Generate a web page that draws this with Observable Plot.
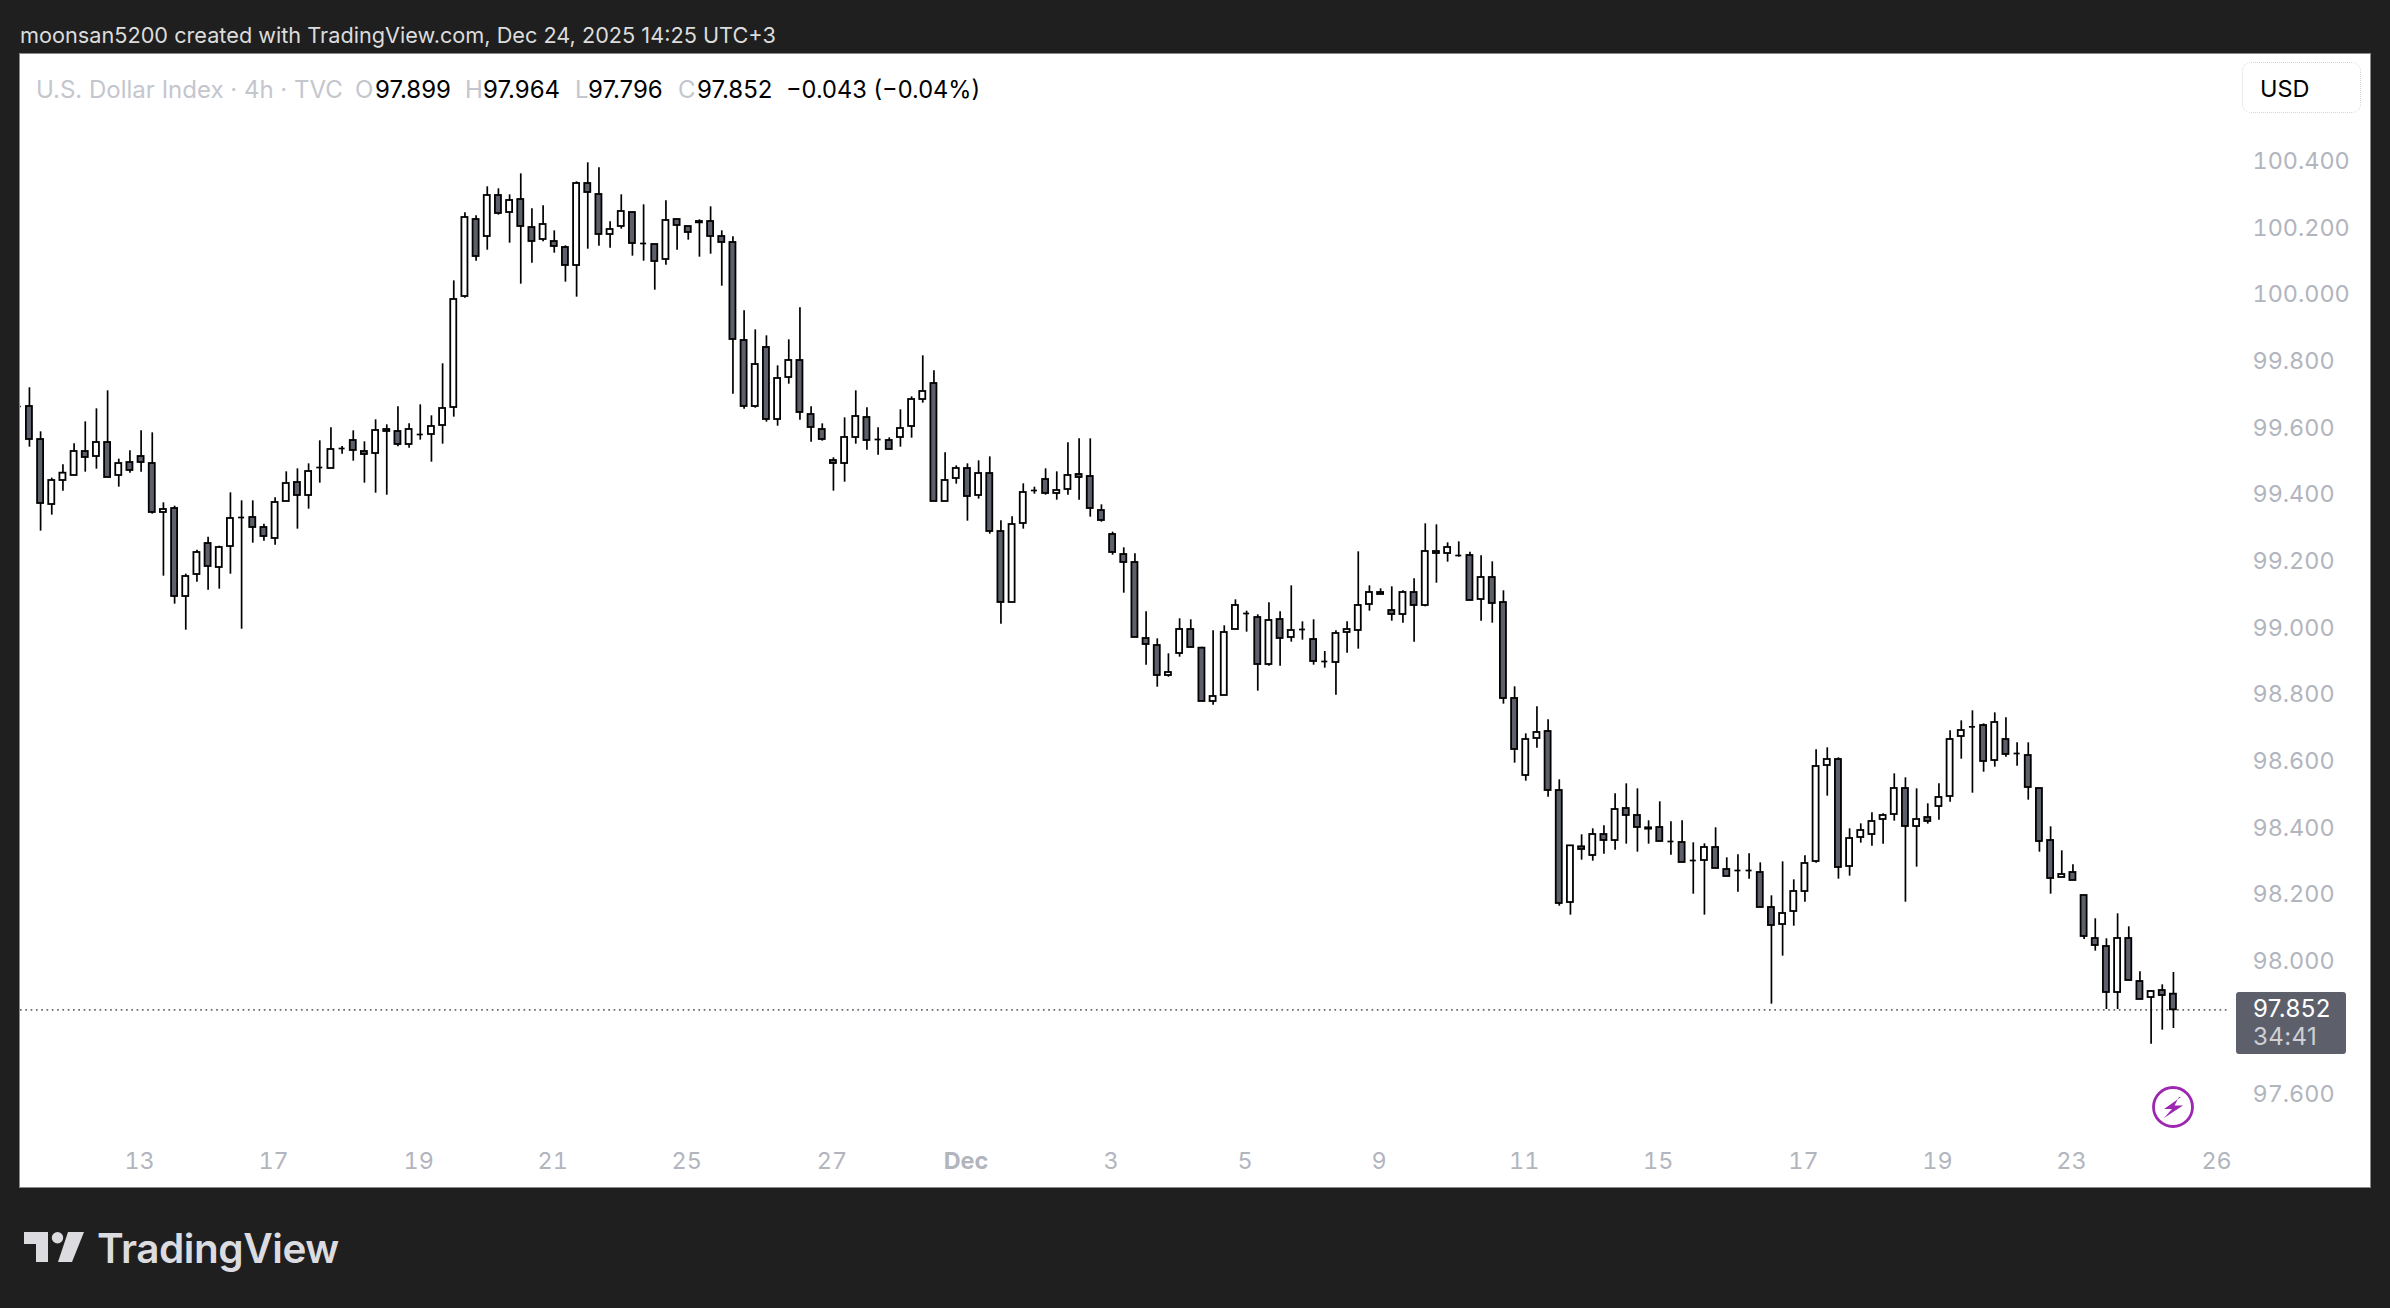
<!DOCTYPE html>
<html><head><meta charset="utf-8">
<script src="https://cdn.jsdelivr.net/npm/d3@7"></script>
<script src="https://cdn.jsdelivr.net/npm/@observablehq/plot@0.6"></script>
<style>
html,body{margin:0;padding:0;background:#1f1f1f;overflow:hidden;width:2390px;height:1308px}
#page{position:relative;width:2390px;height:1308px;font-family:Inter,sans-serif}
#panel{position:absolute;left:20px;top:54px;width:2350px;height:1133px;background:#fff;box-shadow:0 0 0 1px #8a8a8a}
#panel svg{display:block}
.abs{position:absolute;white-space:nowrap;line-height:1}
.leg{font-size:24px;transform:translateY(-50%);top:90px;color:#000}
.g{color:#c4c6cd}
</style></head><body>
<div id="page">
<div class="abs" style="left:20px;top:36px;transform:translateY(-50%);font-size:21.7px;color:#dcdcdc">moonsan5200 created with TradingView.com, Dec 24, 2025 14:25 UTC+3</div>
<div id="panel"></div>
<div class="abs leg g" style="left:36px">U.S. Dollar Index · 4h · TVC</div>
<div class="abs leg g" style="left:355px">O</div><div class="abs leg" style="left:375px">97.899</div>
<div class="abs leg g" style="left:465px">H</div><div class="abs leg" style="left:483px">97.964</div>
<div class="abs leg g" style="left:575px">L</div><div class="abs leg" style="left:588px">97.796</div>
<div class="abs leg g" style="left:678px">C</div><div class="abs leg" style="left:697px">97.852</div>
<div class="abs leg" style="left:786px;font-size:23.6px">−0.043 (−0.04%)</div>
<div class="abs" style="left:2242px;top:62px;width:119px;height:51px;box-sizing:border-box;border:1px dotted #d6d6d6;border-radius:9px"></div>
<div class="abs" style="left:2260px;top:88.5px;transform:translateY(-50%);font-size:23.5px;color:#000">USD</div>
<div id="lastBox" class="abs" style="left:2236px;width:110px;height:62px;background:#5d606b;border-radius:3px"></div>
<div id="lastPrice" class="abs" style="left:2253px;font-size:24px;letter-spacing:.4px;color:#fff;transform:translateY(-50%)">97.852</div>
<div id="countdown" class="abs" style="left:2253px;font-size:24px;letter-spacing:.4px;color:#cfd0d4;transform:translateY(-50%)">34:41</div>
<svg class="abs" style="left:2150px;top:1084px" width="46" height="46" viewBox="0 0 46 46">
<circle cx="23" cy="23" r="19.5" fill="#fff" stroke="#9c27b0" stroke-width="2.8"/>
<path d="M31 13 L14 25 H22 L14 34 L33 21.5 H24.5 L29 13 Z" fill="#9c27b0"/></svg>
<svg class="abs" style="left:24px;top:1232px" width="62" height="32" viewBox="0 0 62 32" fill="#dcdce0">
<path d="M0 0H24V30H12V12H0Z"/><circle cx="33.5" cy="5.7" r="5.7"/><path d="M44 0H60L48 30H34Z"/></svg>
<div class="abs" style="left:97px;top:1249px;transform:translateY(-50%);font-size:40.5px;font-weight:600;letter-spacing:-.45px;color:#dcdce0">TradingView</div>
</div>
<script>
const opens=[99.662,
99.662,99.563,99.368,99.440,99.455,99.527,99.512,99.554,99.455,99.494,
99.512,99.491,99.344,99.356,99.092,99.158,99.251,99.179,99.242,99.329,
99.329,99.299,99.266,99.377,99.434,99.395,99.479,99.476,99.536,99.560,
99.527,99.521,99.593,99.587,99.548,99.578,99.578,99.605,99.659,99.992,
100.223,100.172,100.295,100.244,100.283,100.199,100.163,100.157,100.139,100.085,
100.331,100.298,100.178,100.202,100.244,100.151,100.148,100.103,100.223,100.202,
100.217,100.217,100.172,100.154,99.860,99.662,99.839,99.623,99.749,99.800,
99.638,99.593,99.500,99.491,99.569,99.629,99.563,99.560,99.569,99.602,
99.683,99.731,99.377,99.446,99.476,99.395,99.461,99.287,99.074,99.311,
99.410,99.443,99.401,99.413,99.458,99.452,99.350,99.278,99.218,99.194,
98.966,98.945,98.855,98.921,98.993,98.937,98.777,98.795,98.993,99.041,
99.029,98.888,99.023,98.969,98.993,98.963,98.897,98.894,98.984,98.990,
99.068,99.104,99.050,99.038,99.104,99.065,99.227,99.221,99.215,99.215,
99.083,99.149,99.074,98.786,98.555,98.666,98.687,98.510,98.174,98.341,
98.315,98.378,98.360,98.456,98.435,98.398,98.399,98.357,98.354,98.300,
98.300,98.339,98.273,98.270,98.270,98.264,98.159,98.108,98.147,98.207,
98.297,98.585,98.603,98.282,98.369,98.378,98.423,98.438,98.516,98.402,
98.429,98.462,98.492,98.672,98.701,98.705,98.600,98.663,98.621,98.615,
98.516,98.360,98.249,98.264,98.195,98.066,98.042,97.904,98.066,97.937,
97.889,97.910,97.899];
const closes=[99.662,
99.563,99.371,99.440,99.462,99.527,99.509,99.554,99.449,99.491,99.470,
99.494,99.344,99.353,99.092,99.152,99.224,99.182,99.239,99.326,99.329,
99.299,99.272,99.374,99.431,99.395,99.467,99.479,99.533,99.536,99.530,
99.518,99.590,99.587,99.548,99.593,99.578,99.602,99.656,99.983,100.229,
100.112,100.295,100.241,100.280,100.202,100.157,100.208,100.142,100.085,100.331,
100.304,100.178,100.193,100.247,100.151,100.151,100.097,100.220,100.205,100.184,
100.213,100.172,100.154,99.863,99.662,99.788,99.623,99.746,99.800,99.644,
99.599,99.563,99.491,99.569,99.632,99.560,99.563,99.533,99.596,99.683,
99.707,99.377,99.440,99.476,99.392,99.461,99.287,99.074,99.308,99.404,
99.410,99.401,99.410,99.455,99.449,99.356,99.320,99.224,99.194,98.969,
98.948,98.855,98.864,98.993,98.939,98.777,98.792,98.984,99.065,99.041,
98.888,99.020,98.966,98.990,98.993,98.897,98.897,98.981,98.993,99.065,
99.104,99.098,99.038,99.104,99.065,99.227,99.221,99.239,99.215,99.080,
99.149,99.071,98.786,98.633,98.663,98.684,98.510,98.171,98.344,98.333,
98.378,98.360,98.453,98.435,98.399,98.394,98.357,98.357,98.294,98.300,
98.339,98.276,98.252,98.270,98.270,98.159,98.105,98.141,98.207,98.291,
98.582,98.603,98.279,98.366,98.390,98.417,98.435,98.516,98.402,98.423,
98.417,98.489,98.663,98.690,98.701,98.597,98.714,98.618,98.621,98.519,
98.357,98.246,98.258,98.240,98.072,98.045,97.904,98.066,97.940,97.883,
97.907,97.895,97.852];
const highs=[99.662,
99.718,99.586,99.447,99.487,99.550,99.616,99.655,99.709,99.504,99.529,
99.589,99.583,99.373,99.363,99.159,99.231,99.270,99.243,99.403,99.379,
99.379,99.309,99.388,99.466,99.475,99.490,99.559,99.598,99.542,99.589,
99.556,99.622,99.607,99.661,99.610,99.667,99.634,99.790,100.039,100.243,
100.234,100.321,100.315,100.297,100.360,100.255,100.264,100.189,100.144,100.336,
100.393,100.378,100.216,100.297,100.244,100.267,100.148,100.279,100.223,100.202,
100.222,100.261,100.189,100.171,99.949,99.892,99.874,99.784,99.862,99.958,
99.661,99.610,99.508,99.628,99.709,99.658,99.598,99.568,99.652,99.691,
99.814,99.769,99.523,99.484,99.490,99.499,99.511,99.319,99.331,99.430,
99.420,99.475,99.466,99.553,99.565,99.565,99.367,99.285,99.238,99.220,
99.046,98.965,98.920,99.025,99.022,98.940,98.989,99.004,99.082,99.048,
99.037,99.073,99.046,99.124,99.016,99.022,98.927,98.989,99.016,99.226,
99.124,99.115,99.121,99.109,99.145,99.310,99.307,99.253,99.256,99.225,
99.214,99.196,99.109,98.821,98.680,98.761,98.722,98.542,98.344,98.377,
98.395,98.404,98.500,98.530,98.515,98.419,98.476,98.416,98.419,98.353,
98.350,98.398,98.308,98.317,98.320,98.293,98.194,98.296,98.242,98.314,
98.632,98.638,98.608,98.395,98.410,98.443,98.440,98.560,98.548,98.515,
98.470,98.530,98.689,98.719,98.749,98.710,98.743,98.728,98.653,98.653,
98.516,98.401,98.329,98.287,98.195,98.125,98.065,98.140,98.101,97.966,
97.910,97.927,97.964];
const lows=[99.662,
99.540,99.288,99.336,99.408,99.455,99.465,99.474,99.449,99.420,99.462,
99.465,99.339,99.153,99.069,98.991,99.135,99.111,99.114,99.159,98.994,
99.252,99.258,99.246,99.377,99.294,99.354,99.432,99.476,99.519,99.498,
99.432,99.402,99.396,99.541,99.537,99.561,99.495,99.549,99.630,99.987,
100.098,100.131,100.236,100.152,100.029,100.092,100.156,100.122,100.035,99.990,
100.134,100.143,100.137,100.194,100.113,100.098,100.011,100.086,100.131,100.161,
100.110,100.119,100.023,99.699,99.654,99.657,99.615,99.603,99.729,99.621,
99.555,99.558,99.408,99.435,99.549,99.531,99.516,99.533,99.540,99.567,
99.672,99.377,99.377,99.429,99.318,99.384,99.279,99.009,99.074,99.294,
99.399,99.396,99.381,99.396,99.381,99.330,99.315,99.216,99.102,98.969,
98.886,98.820,98.850,98.910,98.939,98.777,98.766,98.795,98.993,98.985,
98.808,98.883,98.883,98.955,98.961,98.886,98.877,98.796,98.922,98.934,
99.048,99.098,99.018,99.012,98.955,99.061,99.132,99.195,99.210,99.080,
99.018,99.012,98.769,98.592,98.538,98.637,98.490,98.163,98.136,98.301,
98.298,98.319,98.331,98.349,98.325,98.349,98.357,98.316,98.294,98.199,
98.136,98.276,98.252,98.205,98.244,98.159,97.869,98.013,98.103,98.175,
98.292,98.493,98.244,98.253,98.352,98.343,98.349,98.418,98.175,98.280,
98.409,98.421,98.475,98.604,98.502,98.565,98.580,98.610,98.583,98.481,
98.325,98.199,98.249,98.240,98.063,98.028,97.853,97.853,97.940,97.883,
97.749,97.791,97.796];
const priceTicks=[97.6,97.8,98,98.2,98.4,98.6,98.8,99,99.2,99.4,99.6,99.8,100,100.2,100.4];
const shownPriceTicks=priceTicks.filter(p=>p!==97.8);
const dayBars=[10,22,35,47,59,72,97,109,121,134,146,159,171,183,196];
const dayLabels=["13","17","19","21","25","27","3","5","9","11","15","17","19","23","26"];
const monthBar=[84], monthLabel="Dec";
const lastPrice=97.852;

const bars=opens.map((o,k)=>({bar:k-1,open:o,high:highs[k],low:lows[k],close:closes[k]}));
const halfBody=0.27;
const grey="#b2b5be";
const plot=Plot.plot({
  width:2350,height:1133,marginLeft:0,marginRight:140,marginTop:0,marginBottom:60,
  style:{background:"transparent",fontFamily:"Inter,sans-serif",fontSize:"23px"},
  x:{type:"linear",domain:[-0.8,197.11],axis:null},
  y:{type:"linear",domain:[97.499,100.718],axis:null},
  marks:[
    Plot.axisY({anchor:"right",ticks:shownPriceTicks,tickSize:0,tickPadding:22,dy:1,tickFormat:d3.format(".3f"),color:grey,label:null,fontSize:23.4}),
    Plot.axisX({ticks:dayBars,tickSize:0,tickPadding:25,dx:-1.5,tickFormat:d=>dayLabels[dayBars.indexOf(d)],color:grey,label:null,fontSize:23.4}),
    Plot.axisX({ticks:monthBar,tickSize:0,tickPadding:25,dx:-1.5,tickFormat:()=>monthLabel,color:grey,label:null,fontSize:23.4,fontWeight:"bold"}),
    Plot.ruleY([lastPrice],{stroke:"#6a6d77",strokeWidth:1.6,strokeDasharray:"1.7 3.6"}),
    Plot.ruleX(bars,{x:"bar",y1:"low",y2:"high",stroke:"#000",strokeWidth:1.7}),
    Plot.rect(bars.filter(d=>d.open!==d.close),{x1:d=>d.bar-halfBody,x2:d=>d.bar+halfBody,y1:"open",y2:"close",
      fill:d=>d.close>d.open?"#fff":"#5d606b",stroke:"#000",strokeWidth:1.8}),
    Plot.ruleY(bars.filter(d=>d.open===d.close),{x1:d=>d.bar-halfBody,x2:d=>d.bar+halfBody,y:"open",stroke:"#000",strokeWidth:1.7})
  ]
});
document.getElementById("panel").appendChild(plot);
const yc=plot.scale("y").apply(lastPrice)+54;
document.getElementById("lastBox").style.top=(yc-17)+"px";
document.getElementById("lastPrice").style.top=yc+"px";
document.getElementById("countdown").style.top=(yc+28)+"px";
</script>
</body></html>
